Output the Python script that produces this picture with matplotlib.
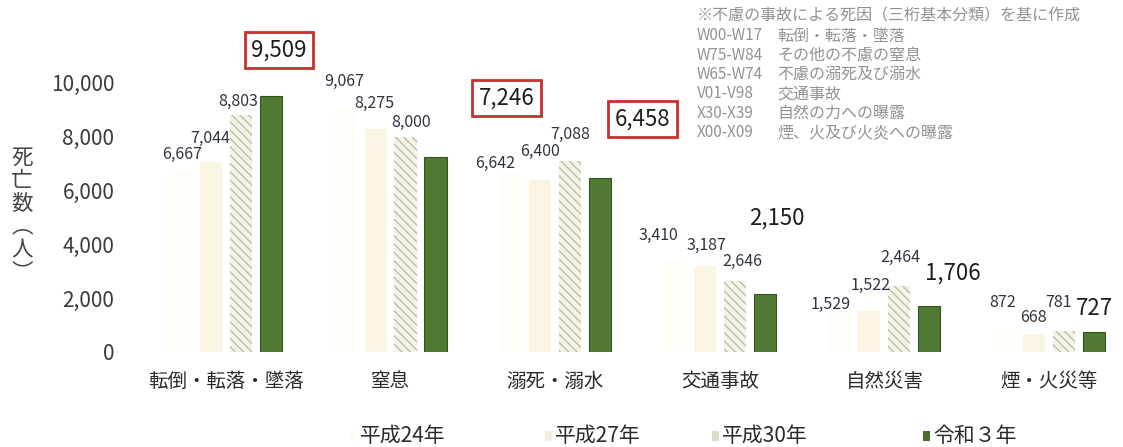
import matplotlib
matplotlib.use("Agg")
import matplotlib.pyplot as plt
from matplotlib.patches import Rectangle
import numpy as np

plt.rcParams['font.family'] = ['Noto Sans CJK JP', 'DejaVu Sans']
plt.rcParams['hatch.linewidth'] = 0.9

# ---- data ----
categories = ["転倒・転落・墜落", "窒息", "溺死・溺水", "交通事故", "自然災害", "煙・火災等"]
series_names = ["平成24年", "平成27年", "平成30年", "令和３年"]
h24 = [6667, 9067, 6642, 3410, 1529, 872]
h27 = [7044, 8275, 6400, 3187, 1522, 668]
h30 = [8803, 8000, 7088, 2646, 2464, 781]
r03 = [9509, 7246, 6458, 2150, 1706, 727]
yticks = [0, 2000, 4000, 6000, 8000, 10000]
notes_codes = ["W00-W17", "W75-W84", "W65-W74", "V01-V98", "X30-X39", "X00-X09"]
notes_desc = ["転倒・転落・墜落", "その他の不慮の窒息", "不慮の溺死及び溺水",
              "交通事故", "自然の力への曝露", "煙、火及び火炎への曝露"]
notes_title = "※不慮の事故による死因（三桁基本分類）を基に作成"

series = [h24, h27, h30, r03]

# ---- styles ----
face = ["#fffdf7", "#faf5e3", "#f4f3e6", "#517a34"]
edge = ["#fffdf7", "#faf5e3", "#b9b9a6", "#35541f"]
lws = [0, 0, 0, 0.8]
hatches = [None, None, "\\\\\\\\", None]
offsets = [-0.273, -0.091, 0.091, 0.273]
width = 0.135
# label offsets in pixels (dx, dy) for each series / category
lab_off = [
    [(1, 18), (-1, 26), (-15, 10), (-16, 25), (-9, 6), (-1, 26)],
    [(-1, 24), (-1, 26), (0, 28), (2, 21), (1, 26), (-1, 17)],
    [(-3, 14), (5, 14), (0, 27), (8, 19), (1, 28), (-5, 28)],
    [(8, 46), (71, 59), (42, 59), (12, 76), (24, 33), (1, 24)],
]

fig = plt.figure(figsize=(11.23, 4.47), dpi=100)
ax = fig.add_axes([124 / 1123, 95 / 447, 999 / 1123, 323 / 447])

x = np.arange(len(categories))
for i, vals in enumerate(series):
    bars = ax.bar(x + offsets[i], vals, width, color=face[i], edgecolor=edge[i],
                  linewidth=lws[i], hatch=hatches[i], zorder=2)
    for j, b in enumerate(bars):
        dx, dy = lab_off[i][j]
        txt = f"{vals[j]:,}"
        cx = b.get_x() + b.get_width() / 2
        if i == 3 and j < 3:
            ax.annotate(txt, (cx, vals[j]), xytext=(dx, dy), textcoords="offset pixels",
                        ha="center", va="center", fontsize=16, color="#1e1e1e",
                        annotation_clip=False,
                        bbox=dict(boxstyle="square,pad=0.3", fc="white", ec="#c8302c", lw=2))
        elif i == 3:
            ax.annotate(txt, (cx, vals[j]), xytext=(dx, dy), textcoords="offset pixels",
                        ha="center", va="center", fontsize=16, color="#1e1e1e",
                        annotation_clip=False)
        else:
            ax.annotate(txt, (cx, vals[j]), xytext=(dx, dy), textcoords="offset pixels",
                        ha="center", va="center", fontsize=11.5, color="#2e3440",
                        annotation_clip=False)

ax.set_xlim(-0.62, 5.45)
ax.set_ylim(0, 12000)
ax.set_yticks(yticks)
ax.set_yticklabels([f"{v:,}" for v in yticks], fontsize=15, color="#3c3c3c")
ax.set_xticks(x)
ax.set_xticklabels(categories, fontsize=14, color="#2a2a2a")
ax.tick_params(axis="both", length=0)
ax.tick_params(axis="y", pad=7)
ax.tick_params(axis="x", pad=14)
for s in ax.spines.values():
    s.set_visible(False)

# y label (vertical stacked)
fig.text(22 / 1123, 1 - 215 / 447, "死\n亡\n数\n︵\n人\n︶", ha="center", va="center",
         fontsize=15.5, color="#444444", linespacing=1.05)

# notes
fig.text(697 / 1123, 1 - 16 / 447, notes_title, ha="left", va="center",
         fontsize=11.5, color="#929292")
for k, (c, d) in enumerate(zip(notes_codes, notes_desc)):
    yy = 1 - (36 + k * 19.3) / 447
    fig.text(697 / 1123, yy, c, ha="left", va="center", fontsize=11, color="#929292")
    fig.text(777 / 1123, yy, d, ha="left", va="center", fontsize=11.5, color="#929292")

# legend (manual)
leg_text_x = [360, 555, 722, 933]
leg_face = ["#fefcf5", "#f3efdc", "#dcdccb", "#4b6b2c"]
for k, name in enumerate(series_names):
    fig.patches.append(Rectangle(((leg_text_x[k] - 10) / 1123, (447 - 441) / 447),
                                 7 / 1123, 10 / 447, transform=fig.transFigure,
                                 facecolor=leg_face[k], edgecolor="none"))
    fig.text(leg_text_x[k] / 1123, 1 - 436 / 447, name, ha="left", va="center",
             fontsize=15, color="#2a2a2a")

fig.savefig("out.png", dpi=100, facecolor="white")
